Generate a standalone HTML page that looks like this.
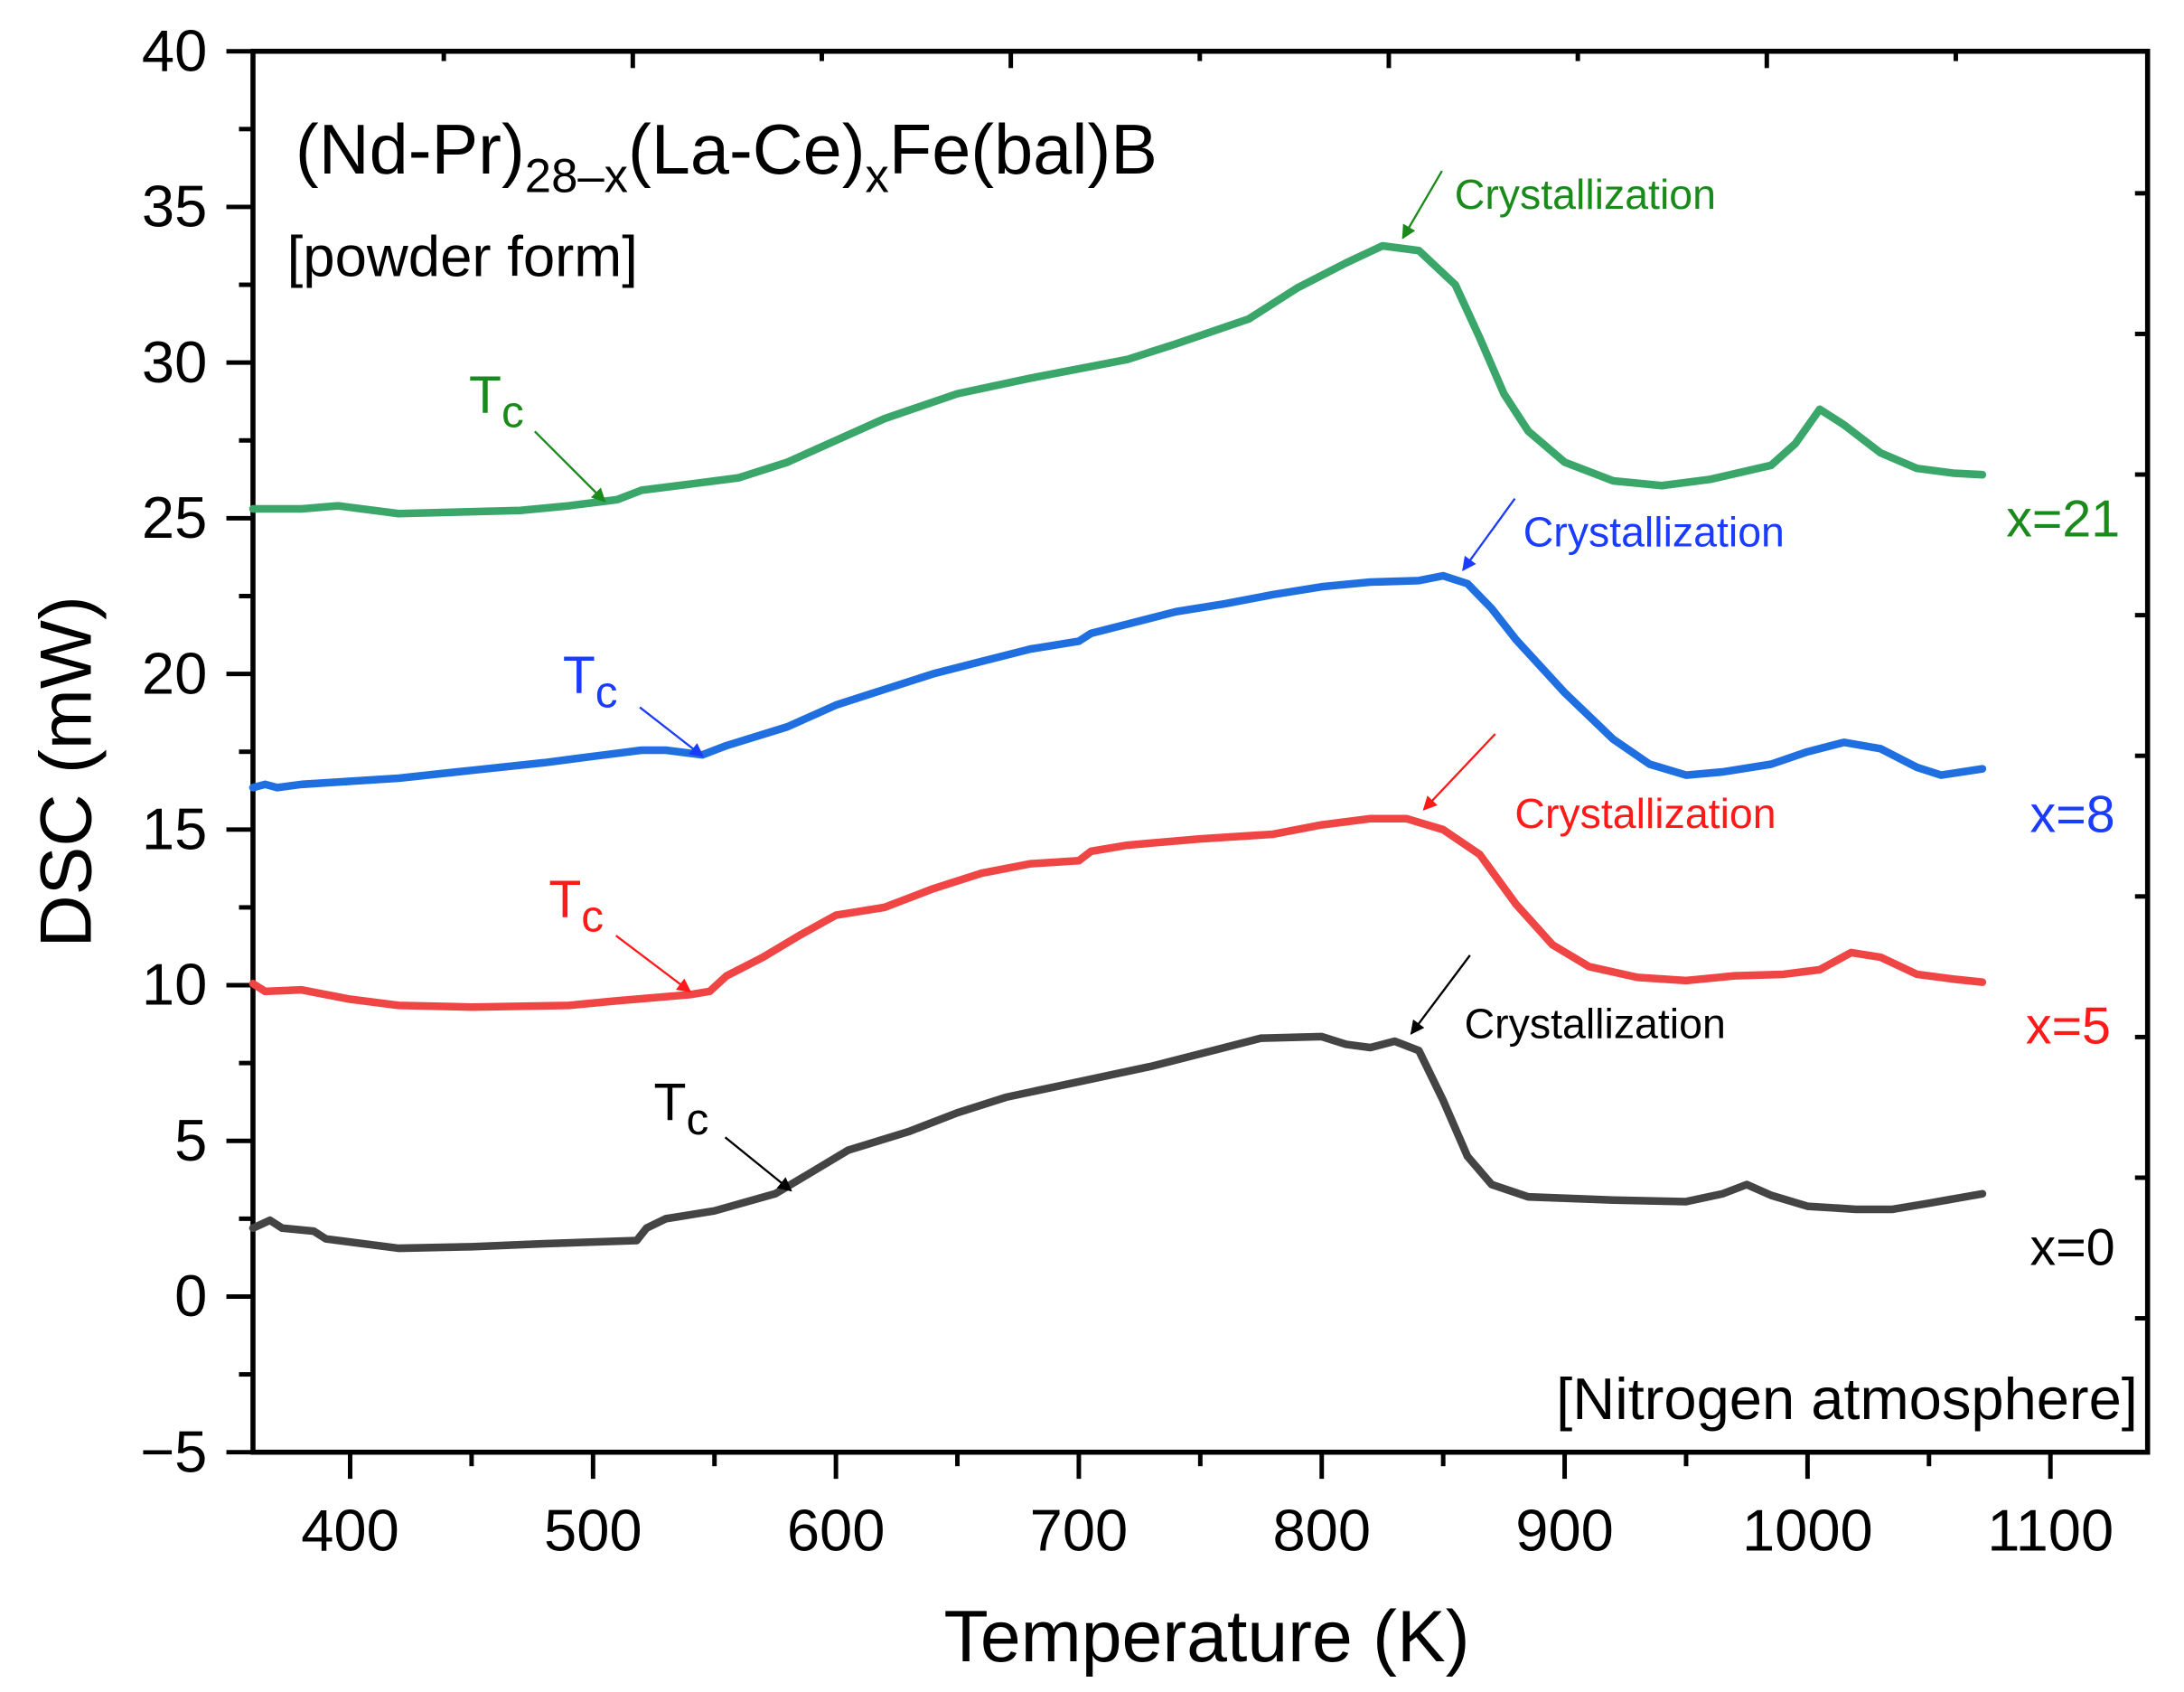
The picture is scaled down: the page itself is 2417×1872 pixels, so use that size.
<!DOCTYPE html>
<html><head><meta charset="utf-8"><style>
html,body{margin:0;padding:0;background:#fff;}
svg{display:block;font-family:"Liberation Sans",Arial,sans-serif;}
</style></head><body>
<svg id="chart" width="2417" height="1872" viewBox="0 0 1560 1208" preserveAspectRatio="none" xmlns="http://www.w3.org/2000/svg">
<defs>
<marker id="ahG" viewBox="0 0 10 10" refX="9" refY="5" markerWidth="14" markerHeight="10" markerUnits="userSpaceOnUse" orient="auto"><path d="M0,0L10,5L0,10z" fill="#1a8a1a"/></marker>
<marker id="ahB" viewBox="0 0 10 10" refX="9" refY="5" markerWidth="14" markerHeight="10" markerUnits="userSpaceOnUse" orient="auto"><path d="M0,0L10,5L0,10z" fill="#1a3cff"/></marker>
<marker id="ahR" viewBox="0 0 10 10" refX="9" refY="5" markerWidth="14" markerHeight="10" markerUnits="userSpaceOnUse" orient="auto"><path d="M0,0L10,5L0,10z" fill="#ff1a1a"/></marker>
<marker id="ahK" viewBox="0 0 10 10" refX="9" refY="5" markerWidth="14" markerHeight="10" markerUnits="userSpaceOnUse" orient="auto"><path d="M0,0L10,5L0,10z" fill="#000"/></marker>
</defs>
<g id="axes"></g>
<g id="series"></g>

<text x="211" y="124" font-size="50">(Nd-Pr)<tspan font-size="34" dy="13">28–x</tspan><tspan dy="-13">(La-Ce)</tspan><tspan font-size="34" dy="13">x</tspan><tspan dy="-13">Fe(bal)B</tspan></text>
<text x="205" y="197" font-size="41">[powder form]</text>
<text x="1527" y="1013" font-size="42" text-anchor="end">[Nitrogen atmosphere]</text>

<text x="862" y="1186" font-size="52" text-anchor="middle">Temperature (K)</text>
<text x="0" y="0" font-size="52" text-anchor="middle" transform="translate(65,551) rotate(-90)">DSC (mW)</text>

<text x="1433" y="383" font-size="37" fill="#1a8a1a">x=21</text>
<text x="1450" y="594" font-size="37" fill="#1a3cff">x=8</text>
<text x="1447" y="745" font-size="37" fill="#ff1a1a">x=5</text>
<text x="1450" y="903" font-size="37" fill="#000">x=0</text>

<g fill="#1a8a1a">
<text x="335" y="295" font-size="38">T<tspan font-size="32" dy="10">c</tspan></text>
<line x1="382" y1="308" x2="432" y2="358" stroke="#1a8a1a" stroke-width="1.5" marker-end="url(#ahG)"/>
</g>
<g fill="#1a8a1a">
<text x="1039" y="149" font-size="30">Crystallization</text>
<line x1="1030" y1="122" x2="1002" y2="170" stroke="#1a8a1a" stroke-width="1.5" marker-end="url(#ahG)"/>
</g>
<g fill="#1a3cff">
<text x="402" y="495" font-size="38">T<tspan font-size="32" dy="10">c</tspan></text>
<line x1="457" y1="505" x2="502" y2="540" stroke="#1a3cff" stroke-width="1.5" marker-end="url(#ahB)"/>
</g>
<g fill="#1a3cff">
<text x="1088" y="390" font-size="30">Crystallization</text>
<line x1="1082" y1="356" x2="1045" y2="407" stroke="#1a3cff" stroke-width="1.5" marker-end="url(#ahB)"/>
</g>
<g fill="#ff1a1a">
<text x="392" y="655" font-size="38">T<tspan font-size="32" dy="10">c</tspan></text>
<line x1="440" y1="668" x2="493" y2="708" stroke="#ff1a1a" stroke-width="1.5" marker-end="url(#ahR)"/>
</g>
<g fill="#ff1a1a">
<text x="1082" y="591" font-size="30">Crystallization</text>
<line x1="1068" y1="524" x2="1017" y2="578" stroke="#ff1a1a" stroke-width="1.5" marker-end="url(#ahR)"/>
</g>
<g fill="#000">
<text x="467" y="800" font-size="38">T<tspan font-size="32" dy="10">c</tspan></text>
<line x1="518" y1="812" x2="565" y2="850" stroke="#000" stroke-width="1.5" marker-end="url(#ahK)"/>
</g>
<g fill="#000">
<text x="1046" y="741" font-size="30">Crystallization</text>
<line x1="1050" y1="682" x2="1008" y2="738" stroke="#000" stroke-width="1.5" marker-end="url(#ahK)"/>
</g>
</svg>
<script>
const xTicks = [400,500,600,700,800,900,1000,1100];
const yTicks = [-5,0,5,10,15,20,25,30,35,40];
const tempX21 = [360,380,395,420,470,490,505,510,520,540,560,580,600,620,650,680,720,740,770,790,810,825,840,855,865,875,885,900,920,940,960,985,995,1005,1015,1030,1045,1060,1072];
const dscX21 = [25.3,25.3,25.4,25.15,25.25,25.4,25.55,25.6,25.9,26.1,26.3,26.8,27.5,28.2,29.0,29.5,30.1,30.6,31.4,32.4,33.2,33.75,33.6,32.5,30.8,29.0,27.8,26.8,26.2,26.05,26.25,26.7,27.4,28.5,28.0,27.1,26.6,26.45,26.4];
const tempX8 = [360,365,370,380,400,420,450,480,500,520,530,545,555,580,600,620,640,660,680,700,705,720,740,760,780,800,820,840,850,860,870,880,900,920,935,950,965,985,1000,1015,1030,1045,1055,1072];
const dscX8 = [16.35,16.45,16.35,16.45,16.55,16.65,16.9,17.15,17.35,17.55,17.55,17.4,17.7,18.3,19.0,19.5,20.0,20.4,20.8,21.05,21.3,21.6,22.0,22.25,22.55,22.8,22.95,23.0,23.15,22.9,22.1,21.1,19.4,17.9,17.1,16.75,16.85,17.1,17.5,17.8,17.6,17.0,16.75,16.95];
const tempX5 = [360,365,380,400,420,450,490,510,540,548,555,570,585,600,620,640,660,680,700,705,720,750,780,800,820,835,850,865,880,895,910,930,950,970,990,1005,1018,1030,1045,1060,1072];
const dscX5 = [10.05,9.8,9.85,9.55,9.35,9.3,9.35,9.5,9.7,9.8,10.3,10.9,11.6,12.25,12.5,13.1,13.6,13.9,14.0,14.3,14.5,14.7,14.85,15.15,15.35,15.35,15.0,14.2,12.6,11.3,10.6,10.25,10.15,10.3,10.35,10.5,11.05,10.9,10.35,10.2,10.1];
const tempX0 = [360,367,372,385,390,420,450,480,518,522,530,550,575,590,605,630,650,670,700,730,760,775,800,810,820,830,840,850,860,870,885,920,950,965,975,985,1000,1020,1035,1050,1072];
const dscX0 = [2.2,2.45,2.2,2.1,1.85,1.55,1.6,1.7,1.8,2.2,2.5,2.75,3.3,4.0,4.7,5.3,5.9,6.4,6.9,7.4,8.0,8.3,8.35,8.1,8.0,8.2,7.9,6.3,4.5,3.6,3.2,3.1,3.05,3.3,3.6,3.25,2.9,2.8,2.8,3.0,3.3];

const NS = "http://www.w3.org/2000/svg";
const L = 180.7, R = 1534, T = 36.6, B = 1036.8;
const XMIN = 360, XMAX = 1140, YMIN = -5, YMAX = 40;
function sx(v){ return L + (v - XMIN) * (R - L) / (XMAX - XMIN); }
function sy(v){ return B - (v - YMIN) * (B - T) / (YMAX - YMIN); }
function mk(tag, parent){ const e = document.createElementNS(NS, tag); parent.appendChild(e); return e; }

const axes = document.getElementById('axes');
const frame = mk('rect', axes);


frame.setAttribute('x', L); frame.setAttribute('y', T);
frame.setAttribute('width', R - L); frame.setAttribute('height', B - T);
frame.setAttribute('fill', 'none'); frame.setAttribute('stroke', '#000'); frame.setAttribute('stroke-width', '3.6');

for (let v = 350; v <= 1140; v += 50) {
  if (v < XMIN) continue;
  const major = v % 100 === 0;
  const t = mk('line', axes);
  
  
  t.setAttribute('x1', sx(v)); t.setAttribute('x2', sx(v));
  t.setAttribute('y1', B); t.setAttribute('y2', B + (major ? 19 : 10));
  t.setAttribute('stroke', '#000'); t.setAttribute('stroke-width', '3.2');
}
xTicks.forEach(v => {
  const t = mk('text', axes);
  
  
  t.setAttribute('x', sx(v)); t.setAttribute('y', 1107);
  t.setAttribute('font-size', '42'); t.setAttribute('text-anchor', 'middle');
  t.textContent = v;
});
for (let v = -5; v <= 40; v += 2.5) {
  const major = v % 5 === 0;
  const t = mk('line', axes);
  
  
  t.setAttribute('x1', L); t.setAttribute('x2', L - (major ? 19 : 10));
  t.setAttribute('y1', sy(v)); t.setAttribute('y2', sy(v));
  t.setAttribute('stroke', '#000'); t.setAttribute('stroke-width', '3.2');
}
yTicks.forEach(v => {
  const t = mk('text', axes);
  
  
  t.setAttribute('x', 148); t.setAttribute('y', sy(v) + 14);
  t.setAttribute('font-size', '42'); t.setAttribute('text-anchor', 'end');
  t.textContent = v < 0 ? '\u2212' + Math.abs(v) : v;
});
for (let i = 0; i < 10; i++) {
  const x = 317 + i * 135;
  if (x > R - 5) break;
  const t = mk('line', axes);
  
  
  t.setAttribute('x1', x); t.setAttribute('x2', x);
  t.setAttribute('y1', T); t.setAttribute('y2', T + (i % 2 ? 12 : 7));
  t.setAttribute('stroke', '#000'); t.setAttribute('stroke-width', '3.2');
}
for (let i = 0; i < 9; i++) {
  const y = 138 + i * 100.4;
  const t = mk('line', axes);
  
  
  t.setAttribute('x1', R); t.setAttribute('x2', R - 9);
  t.setAttribute('y1', y); t.setAttribute('y2', y);
  t.setAttribute('stroke', '#000'); t.setAttribute('stroke-width', '3.2');
}

const series = document.getElementById('series');
function drawSeries(xs, ys, color, name){
  const p = mk('path', series);
  
  
  let d = '';
  xs.forEach((x, i) => { d += (i ? 'L' : 'M') + sx(x).toFixed(1) + ',' + sy(ys[i]).toFixed(1); });
  p.setAttribute('d', d);
  p.setAttribute('fill', 'none'); p.setAttribute('stroke', color);
  p.setAttribute('stroke-width', '5.5'); p.setAttribute('stroke-linejoin', 'round'); p.setAttribute('stroke-linecap', 'round');
}
drawSeries(tempX21, dscX21, '#3aa66a', 'series-x21');
drawSeries(tempX8, dscX8, '#1f6fe0', 'series-x8');
drawSeries(tempX5, dscX5, '#f04545', 'series-x5');
drawSeries(tempX0, dscX0, '#444444', 'series-x0');
</script>
</body></html>
